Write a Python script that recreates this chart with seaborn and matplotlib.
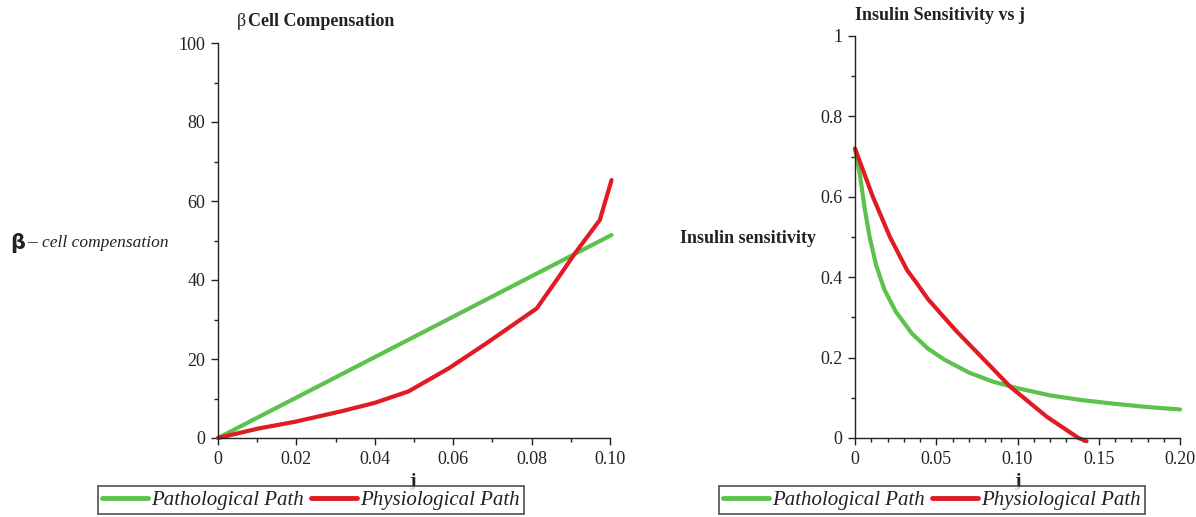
import numpy as np
import pandas as pd
import matplotlib
matplotlib.use("Agg")
import matplotlib.pyplot as plt
import seaborn as sns
from matplotlib.ticker import MultipleLocator, FixedLocator
from matplotlib.lines import Line2D

# ---------------- data ----------------
# Left panel: beta cell compensation vs j
beta_j_patho = [0.0, 0.1004]
beta_patho = [0.0, 51.4]
beta_j_physio = [0.0, 0.0103, 0.0196, 0.0316, 0.040, 0.0486, 0.0588, 0.0685, 0.0813, 0.0864, 0.0911, 0.0974, 0.1004]
beta_physio = [0.0, 2.4, 4.1, 6.8, 8.9, 11.8, 17.6, 24.0, 32.8, 40.0, 46.8, 55.2, 65.3]

# Right panel: insulin sensitivity vs j
ins_j_patho = [0.0, 0.003, 0.006, 0.009, 0.013, 0.018, 0.025, 0.035, 0.045, 0.055,
               0.07, 0.085, 0.10, 0.12, 0.14, 0.16, 0.18, 0.20]
ins_patho = [0.72, 0.655, 0.57, 0.50, 0.43, 0.37, 0.315, 0.26, 0.222, 0.195,
             0.163, 0.14, 0.124, 0.106, 0.094, 0.085, 0.077, 0.071]
ins_j_physio = [0.0, 0.011, 0.0215, 0.032, 0.038, 0.045, 0.0564, 0.0626, 0.077, 0.0954, 0.118, 0.1375, 0.1425]
ins_physio = [0.72, 0.60, 0.50, 0.418, 0.385, 0.345, 0.293, 0.265, 0.205, 0.128, 0.053, 0.0, -0.008]

series_names = ["Pathological Path", "Physiological Path"]
colors = ["#5cc24c", "#e01b24"]

# ---------------- plot ----------------
sns.set_theme(style="white")
plt.rcParams["font.family"] = ["Liberation Serif", "DejaVu Serif"]

fig = plt.figure(figsize=(11.96, 5.17), dpi=100)
W, H = 1196, 517

def add_axes_px(x0, x1, ytop, ybot):
    return fig.add_axes([x0 / W, 1 - ybot / H, (x1 - x0) / W, (ybot - ytop) / H])

axL = add_axes_px(218, 610, 43, 438)
axR = add_axes_px(855, 1180, 36, 438)

dfL = pd.concat([
    pd.DataFrame({"j": beta_j_patho, "v": beta_patho, "path": series_names[0]}),
    pd.DataFrame({"j": beta_j_physio, "v": beta_physio, "path": series_names[1]}),
])
dfR = pd.concat([
    pd.DataFrame({"j": ins_j_patho, "v": ins_patho, "path": series_names[0]}),
    pd.DataFrame({"j": ins_j_physio, "v": ins_physio, "path": series_names[1]}),
])

pal = dict(zip(series_names, colors))
for ax, df in [(axL, dfL), (axR, dfR)]:
    sns.lineplot(data=df, x="j", y="v", hue="path", palette=pal, ax=ax,
                 linewidth=3.0, sort=False, estimator=None, legend=False, clip_on=False)

axL.set_xlim(0, 0.1)
axL.set_ylim(0, 100)
axL.xaxis.set_major_locator(FixedLocator([0, 0.02, 0.04, 0.06, 0.08, 0.10]))
axL.set_xticklabels(["0", "0.02", "0.04", "0.06", "0.08", "0.10"])
axL.xaxis.set_minor_locator(MultipleLocator(0.01))
axL.yaxis.set_major_locator(FixedLocator([0, 20, 40, 60, 80, 100]))
axL.set_yticklabels(["0", "20", "40", "60", "80", "100"])
axL.yaxis.set_minor_locator(MultipleLocator(10))

axR.set_xlim(0, 0.2)
axR.set_ylim(0, 1)
axR.xaxis.set_major_locator(FixedLocator([0, 0.05, 0.10, 0.15, 0.20]))
axR.set_xticklabels(["0", "0.05", "0.10", "0.15", "0.20"])
axR.xaxis.set_minor_locator(MultipleLocator(0.01))
axR.yaxis.set_major_locator(FixedLocator([0, 0.2, 0.4, 0.6, 0.8, 1.0]))
axR.set_yticklabels(["0", "0.2", "0.4", "0.6", "0.8", "1"])
axR.yaxis.set_minor_locator(MultipleLocator(0.1))

for ax in (axL, axR):
    for s in ("top", "right"):
        ax.spines[s].set_visible(False)
    for s in ("left", "bottom"):
        ax.spines[s].set_color("#222222")
        ax.spines[s].set_linewidth(1.0)
    ax.tick_params(which="major", direction="out", length=5, width=1, color="#222222",
                   labelsize=13, labelcolor="#222222", left=True, bottom=True, pad=4)
    ax.tick_params(which="minor", direction="out", length=3, width=1, color="#222222",
                   left=True, bottom=True)
    ax.set_xlabel("")
    ax.set_ylabel("")
    ax.set_facecolor("white")

# Titles
fig.text(237 / W, 1 - 22 / H, "β", fontsize=13, ha="left", va="center", color="#222222")
fig.text(248 / W, 1 - 22 / H, "Cell Compensation", fontsize=13, fontweight="bold",
         ha="left", va="center", color="#222222")
fig.text(855 / W, 1 - 15 / H, "Insulin Sensitivity vs j", fontsize=13, fontweight="bold",
         ha="left", va="center", color="#222222")

# Y labels
fig.text(10 / W, 1 - 243 / H, "β", fontsize=15, fontweight="bold", ha="left", va="center",
         color="#222222", family=["DejaVu Sans"])
fig.text(27 / W, 1 - 243 / H, "–", fontsize=14, ha="left", va="center", color="#222222")
fig.text(42 / W, 1 - 243 / H, "cell compensation", fontsize=12.5, fontstyle="italic",
         ha="left", va="center", color="#222222")
fig.text(680 / W, 1 - 238 / H, "Insulin sensitivity", fontsize=13, fontweight="bold",
         ha="left", va="center", color="#222222")

# X labels
fig.text(412 / W, 1 - 481 / H, "j", fontsize=14, fontweight="bold", ha="center", va="center",
         color="#222222")
fig.text(1017 / W, 1 - 481 / H, "j", fontsize=14, fontweight="bold", ha="center", va="center",
         color="#222222")

# Legends
handles = [Line2D([], [], color=c, linewidth=3.5) for c in colors]
for cx in (311, 932):
    leg = fig.legend(handles, series_names, loc="center", bbox_to_anchor=(cx / W, 1 - 500 / H),
                     ncol=2, frameon=True, fancybox=False, edgecolor="#222222",
                     prop={"style": "italic", "size": 15}, handlelength=2.2,
                     handletextpad=0.15, columnspacing=0.35, borderpad=0.2,
                     borderaxespad=0.0)
    leg.get_frame().set_linewidth(1.2)
    for t in leg.get_texts():
        t.set_color("#222222")

fig.savefig("out.png", dpi=100, facecolor="white")
